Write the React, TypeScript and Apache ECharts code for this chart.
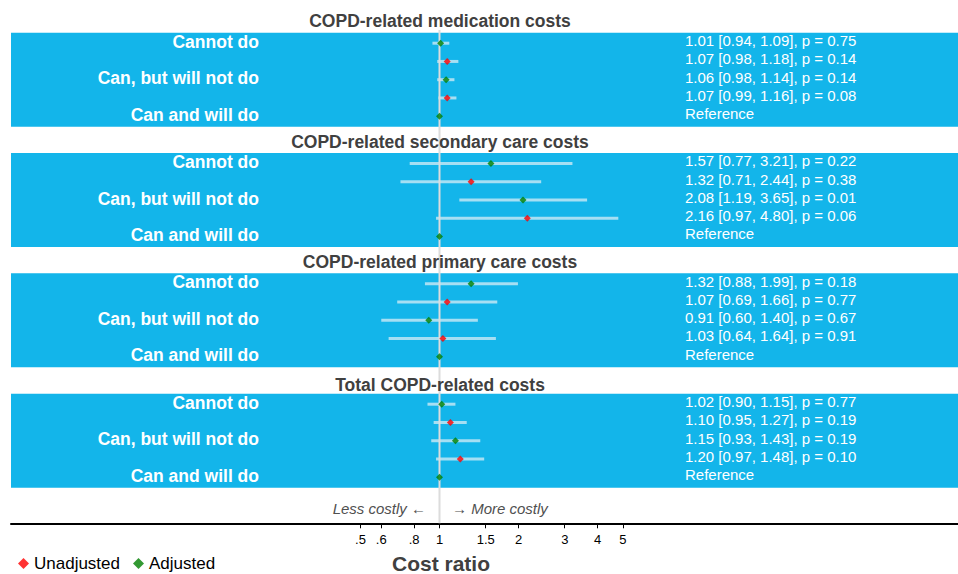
import React, { useEffect, useRef } from 'react';
import * as echarts from 'echarts';

// ---------- data ----------
const panelTitles = [
  'COPD-related medication costs',
  'COPD-related secondary care costs',
  'COPD-related primary care costs',
  'Total COPD-related costs',
];
const rowLabels = ['Cannot do', '', 'Can, but will not do', '', 'Can and will do'];
const rowSeries = ['Adjusted', 'Unadjusted', 'Adjusted', 'Unadjusted', 'Adjusted'];

const medEst = [1.01, 1.07, 1.06, 1.07, 1];
const medLo = [0.94, 0.98, 0.98, 0.99];
const medHi = [1.09, 1.18, 1.14, 1.16];
const medP = [0.75, 0.14, 0.14, 0.08];

const secEst = [1.57, 1.32, 2.08, 2.16, 1];
const secLo = [0.77, 0.71, 1.19, 0.97];
const secHi = [3.21, 2.44, 3.65, 4.8];
const secP = [0.22, 0.38, 0.01, 0.06];

const primEst = [1.32, 1.07, 0.91, 1.03, 1];
const primLo = [0.88, 0.69, 0.6, 0.64];
const primHi = [1.99, 1.66, 1.4, 1.64];
const primP = [0.18, 0.77, 0.67, 0.91];

const totEst = [1.02, 1.1, 1.15, 1.2, 1];
const totLo = [0.9, 0.95, 0.93, 0.97];
const totHi = [1.15, 1.27, 1.43, 1.48];
const totP = [0.77, 0.19, 0.19, 0.1];

const referenceLabel = 'Reference';

const tickValues = [0.5, 0.6, 0.8, 1, 1.5, 2, 3, 4, 5];
const tickLabels = ['.5', '.6', '.8', '1', '1.5', '2', '3', '4', '5'];

const panels = [
  { est: medEst, lo: medLo, hi: medHi, p: medP },
  { est: secEst, lo: secLo, hi: secHi, p: secP },
  { est: primEst, lo: primLo, hi: primHi, p: primP },
  { est: totEst, lo: totLo, hi: totHi, p: totP },
];

// ---------- style / layout ----------
const BLUE = '#13B5EA';
const CI_COLOR = '#A6DFF3';
const RED = '#FF0000';
const GREEN = '#008000';
const FONT = '"Liberation Sans", Arial, Helvetica, sans-serif';

const GRID_LEFT = 11;
const PX_ONE = 439.5;
const PX_PER_LN = 114;
const X_MIN = (GRID_LEFT - PX_ONE) / PX_PER_LN;
const X_MAX = (958 - PX_ONE) / PX_PER_LN;
const panelTops = [32.7, 153, 273.3, 393.7];
const titleYs = [20.5, 142, 262, 384.5];
const PANEL_H = 94;
const LEFT_LABEL_SHIFT = 0.08; // label baseline nudge (rows)
const RIGHT_LABEL_SHIFT = 0.14;

const fmt = (v: number) => v.toFixed(2);

function buildOption() {
  const grids: any[] = panelTops.map((t) => ({
    left: GRID_LEFT,
    right: 0,
    top: t,
    height: PANEL_H,
    show: true,
    backgroundColor: BLUE,
    borderWidth: 0,
  }));
  grids.push({ left: GRID_LEFT, right: 0, top: 30, bottom: 50.7 });

  const xAxes: any[] = panelTops.map((_, i) => ({
    gridIndex: i,
    type: 'value',
    min: X_MIN,
    max: X_MAX,
    show: false,
  }));
  const lnTicks = tickValues.map((v) => Math.log(v));
  xAxes.push({
    gridIndex: 4,
    type: 'value',
    min: X_MIN,
    max: X_MAX,
    axisLine: { show: true, onZero: false, lineStyle: { color: '#000', width: 2 } },
    axisTick: { show: true, customValues: lnTicks, length: 5, lineStyle: { color: '#000', width: 1 } },
    axisLabel: {
      customValues: lnTicks,
      fontSize: 13,
      color: '#000',
      fontFamily: FONT,
      margin: 10,
      formatter: (v: number) => {
        const i = lnTicks.findIndex((t) => Math.abs(t - v) < 1e-6);
        return i >= 0 ? tickLabels[i] : '';
      },
    },
    splitLine: { show: false },
  });

  const yAxes: any[] = [];
  const series: any[] = [];
  panels.forEach((pn, i) => {
    const rightTexts = pn.est.map((e, r) =>
      r < pn.lo.length
        ? `${fmt(e)} [${fmt(pn.lo[r])}, ${fmt(pn.hi[r])}], p = ${fmt(pn.p[r])}`
        : referenceLabel
    );
    const base = {
      gridIndex: i,
      type: 'value',
      min: -0.575,
      max: 4.575,
      inverse: true,
      axisLine: { show: false },
      axisTick: { show: false },
      splitLine: { show: false },
    };
    yAxes.push({
      ...base,
      position: 'left',
      axisLabel: {
        inside: true,
        align: 'right',
        margin: 248,
        customValues: [0, 2, 4].map((r) => r - LEFT_LABEL_SHIFT),
        color: '#fff',
        fontWeight: 'bold',
        fontSize: 17.5,
        fontFamily: FONT,
        formatter: (v: number) => rowLabels[Math.round(v)] || '',
      },
    });
    yAxes.push({
      ...base,
      position: 'right',
      axisLabel: {
        inside: true,
        align: 'left',
        margin: 958 - 685,
        customValues: [0, 1, 2, 3, 4].map((r) => r - RIGHT_LABEL_SHIFT),
        color: '#fff',
        fontSize: 15,
        fontFamily: FONT,
        formatter: (v: number) => rightTexts[Math.round(v)] || '',
      },
    });

    const ciData = pn.lo.map((lo, r) => [Math.log(lo), Math.log(pn.hi[r]), r]);
    series.push({
      type: 'custom',
      xAxisIndex: i,
      yAxisIndex: 2 * i,
      z: 1,
      silent: true,
      encode: { x: [0, 1], y: 2 },
      data: ciData,
      renderItem: (_p: any, api: any) => {
        const a = api.coord([api.value(0), api.value(2)]);
        const b = api.coord([api.value(1), api.value(2)]);
        return {
          type: 'line',
          shape: { x1: a[0], y1: a[1], x2: b[0], y2: b[1] },
          style: { stroke: CI_COLOR, lineWidth: 3 },
        };
      },
    });
    ['Unadjusted', 'Adjusted'].forEach((name) => {
      series.push({
        type: 'scatter',
        name,
        xAxisIndex: i,
        yAxisIndex: 2 * i,
        z: 3,
        symbol: 'diamond',
        symbolSize: 7,
        itemStyle: { color: name === 'Unadjusted' ? RED : GREEN },
        data: pn.est
          .map((e, r) => (rowSeries[r] === name ? [Math.log(e), r] : null))
          .filter((d) => d !== null),
      });
    });
  });
  yAxes.push({ gridIndex: 4, type: 'value', min: 0, max: 1, show: false });

  series.push({
    type: 'line',
    xAxisIndex: 4,
    yAxisIndex: 8,
    z: 2,
    silent: true,
    symbol: 'none',
    lineStyle: { color: '#DCDCDC', width: 2 },
    data: [
      [0, 0],
      [0, 1],
    ],
  });

  const graphics: any[] = panelTitles.map((t, i) => ({
    type: 'text',
    x: 440,
    y: titleYs[i],
    z: 10,
    style: {
      text: t,
      align: 'center',
      verticalAlign: 'middle',
      fill: '#404040',
      font: `bold 17.5px ${FONT}`,
    },
  }));
  graphics.push(
    {
      type: 'text',
      x: 426,
      y: 508,
      style: {
        text: 'Less costly ←',
        align: 'right',
        verticalAlign: 'middle',
        fill: '#505050',
        font: `italic 15px ${FONT}`,
      },
    },
    {
      type: 'text',
      x: 452,
      y: 508,
      style: {
        text: '→ More costly',
        align: 'left',
        verticalAlign: 'middle',
        fill: '#505050',
        font: `italic 15px ${FONT}`,
      },
    },
    {
      type: 'text',
      x: 441,
      y: 563,
      style: {
        text: 'Cost ratio',
        align: 'center',
        verticalAlign: 'middle',
        fill: '#404040',
        font: `bold 21px ${FONT}`,
      },
    }
  );

  return {
    animation: false,
    grid: grids,
    xAxis: xAxes,
    yAxis: yAxes,
    series,
    graphic: graphics,
    legend: {
      left: 13,
      top: 550,
      itemWidth: 11,
      itemHeight: 11,
      itemGap: 13,
      selectedMode: false,
      textStyle: { fontSize: 17, color: '#000', fontFamily: FONT },
      data: [
        { name: 'Unadjusted', icon: 'diamond' },
        { name: 'Adjusted', icon: 'diamond' },
      ],
    },
  };
}

export default function App() {
  const ref = useRef<HTMLDivElement>(null);
  useEffect(() => {
    const chart = echarts.init(ref.current!, null, { renderer: 'svg' });
    chart.setOption(buildOption() as any);
    return () => chart.dispose();
  }, []);
  return (
    <div
      ref={ref}
      style={{ position: 'absolute', left: 0, top: 0, width: 958, height: 574 }}
    />
  );
}
